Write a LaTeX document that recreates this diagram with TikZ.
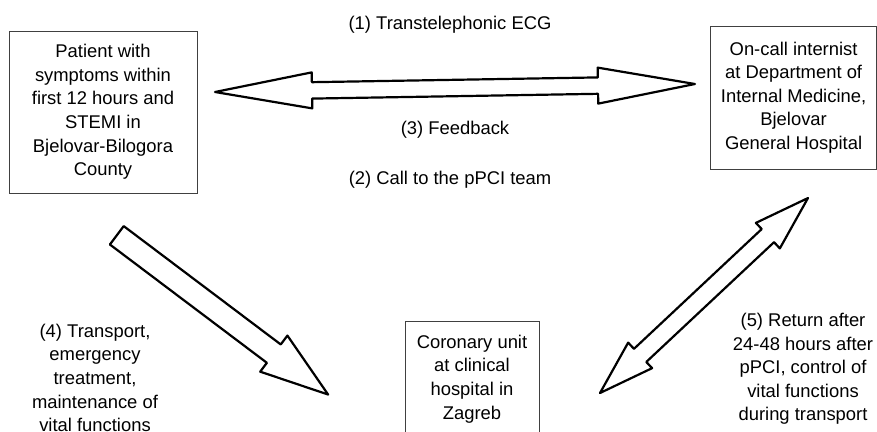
\documentclass[tikz,border=0pt]{standalone}
\usepackage{fontspec}
\setmainfont{Liberation Sans}
\begin{document}
\begin{tikzpicture}[x=1pt,y=-1pt,
  box/.style={draw=black!75, line width=0.8pt, fill=white, align=center, inner sep=0pt},
  lbl/.style={align=center, inner sep=0pt},
  fatarrow/.style={draw=black, line width=2.2pt, fill=white, line join=round},
  every node/.style={font=\fontsize{18.4}{23.6}\selectfont, text=black}]
\useasboundingbox (0,0) rectangle (877,431);
\clip (0,0) rectangle (877,431);

% boxes
\node[box, minimum width=188pt, minimum height=162pt] (patient) at (103,112)
  {Patient with\\symptoms within\\first 12 hours and\\STEMI in\\Bjelovar-Bilogora\\County};
\node[box, minimum width=165.5pt, minimum height=143pt] (internist) at (793.6,97.5)
  {On-call internist\\at Department of\\Internal Medicine,\\Bjelovar\\General Hospital};
\node[box, minimum width=134pt, minimum height=116pt] (coronary) at (472,379)
  {Coronary unit\\at clinical\\hospital in\\Zagreb};

% labels
\node[lbl] (l1) at (450,24.5) {(1) Transtelephonic ECG};
\node[lbl] (l3) at (455,130) {(3) Feedback};
\node[lbl] (l2) at (450,180) {(2) Call to the pPCI team};
\node[lbl] (l4) at (95,378) {(4) Transport,\\emergency\\treatment,\\maintenance of\\vital functions};
\node[lbl] (l5) at (803,369) {(5) Return after\\24-48 hours after\\pPCI, control of\\vital functions\\during transport};

% block arrows
\coordinate (hTip) at (215,92);
\coordinate (dTail) at (116.8,235.3);
\coordinate (rTip) at (600,393);

\begin{scope}[shift={(hTip)}, rotate=0.955]
  \draw[fatarrow] (0,0) -- (97,-18) -- (97,-8.2) -- (383,-8.2) -- (383,-18) -- (480,0)
    -- (383,18) -- (383,8.2) -- (97,8.2) -- (97,18) -- cycle;
\end{scope}

\begin{scope}[shift={(dTail)}, rotate=-37]
  \draw[fatarrow] (0,-11.5) -- (196.6,-11.5) -- (196.6,-22.6) -- (264.6,0)
    -- (196.6,22.6) -- (196.6,11.5) -- (0,11.5) -- cycle;
\end{scope}

\begin{scope}[shift={(rTip)}, rotate=43.15]
  \draw[fatarrow] (0,0) -- (55,-17.5) -- (55,-9) -- (230.1,-9) -- (230.1,-17.5) -- (285.1,0)
    -- (230.1,17.5) -- (230.1,9) -- (55,9) -- (55,17.5) -- cycle;
\end{scope}
\end{tikzpicture}
\end{document}
